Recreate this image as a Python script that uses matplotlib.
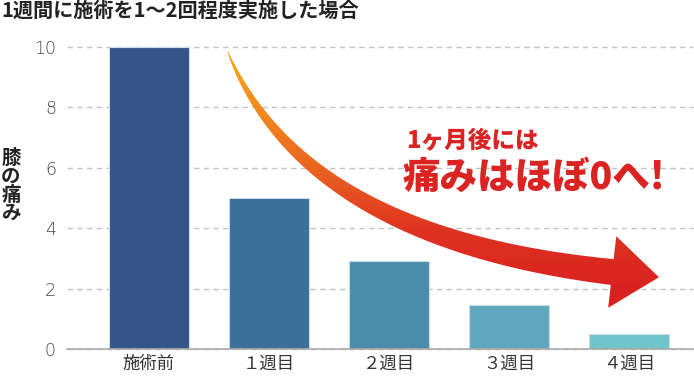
import numpy as np
import matplotlib
matplotlib.use("Agg")
import matplotlib.pyplot as plt
from matplotlib.patches import Polygon
from matplotlib.colors import LinearSegmentedColormap

plt.rcParams['font.family'] = ['Noto Sans CJK JP', 'DejaVu Sans']

# data
categories = ["施術前", "１週目", "２週目", "３週目", "４週目"]
pain = [10, 5.0, 2.9, 1.45, 0.5]
bar_colors = ["#34548a", "#3c6f99", "#4b8bab", "#5fa8bf", "#6fc6ca"]
yticks = [0, 2, 4, 6, 8, 10]

title = "1週間に施術を1〜2回程度実施した場合"
ylabel = "膝の痛み"
note1 = "1ヶ月後には"
note2 = "痛みはほぼ0へ!"

fig = plt.figure(figsize=(6.94, 3.8), dpi=100)
ax = fig.add_axes([67 / 694, 31 / 380, 626 / 694, 302 / 380])

x = np.arange(len(categories))
ax.bar(x, pain, width=0.667, color=bar_colors, edgecolor="#c8dbe6",
       linewidth=0.8, zorder=2)

ax.set_xlim(-0.683, 4.533)
ax.set_ylim(0, 10)
ax.set_yticks(yticks)
ax.set_xticks(x)
ax.set_xticklabels(categories, fontsize=12.5, color="#333333")
ax.tick_params(axis='y', length=0, pad=8, labelsize=12.5, labelcolor="#444444")
ax.tick_params(axis='x', length=0, pad=4)
for lab in ax.get_yticklabels():
    lab.set_family(['DejaVu Sans'])
    lab.set_fontweight('light')

for s in ["top", "right", "left"]:
    ax.spines[s].set_visible(False)
ax.spines["bottom"].set_color("#aaaaaa")
ax.spines["bottom"].set_linewidth(1.2)
ax.yaxis.grid(True, color="#c4c4c4", linestyle=(0, (4, 3)), linewidth=1, zorder=0)
ax.set_axisbelow(True)
for gl in ax.get_ygridlines():
    gl.set_clip_on(False)

fig.text(1 / 694, 1 - 10 / 380, title, fontsize=14.5, fontweight='bold',
         color="#222222", ha='left', va='center')
fig.text(11 / 694, 1 - 186 / 380, "\n".join(ylabel), fontsize=14,
         fontweight='bold', color="#222222", ha='center', va='center',
         linespacing=0.95)

# curved gradient arrow (overlay in pixel space, anchored to data points)
ov = fig.add_axes([0, 0, 1, 1], zorder=5)
ov.set_xlim(0, 694)
ov.set_ylim(380, 0)
ov.axis('off')
ov.patch.set_alpha(0)


def to_px(pt):
    d = ax.transData.transform(pt)
    return ov.transData.inverted().transform(d)


p0 = to_px((0.65, 9.9))
p1 = to_px((1.275, 3.68))
p2 = to_px((3.86, 2.55))
t = np.linspace(0, 1, 200)[:, None]
curve = (1 - t) ** 2 * p0 + 2 * t * (1 - t) * p1 + t ** 2 * p2
deriv = 2 * (1 - t) * (p1 - p0) + 2 * t * (p2 - p1)
tang = deriv / np.linalg.norm(deriv, axis=1)[:, None]
norm = np.column_stack([-tang[:, 1], tang[:, 0]])
w = 13 * t[:, 0] ** 0.7
upper = curve + norm * w[:, None]
lower = curve - norm * w[:, None]

# head
d_end = np.array([0.994, 0.112])
n_end = np.array([-d_end[1], d_end[0]])
base = p2
tip = base + 47 * d_end
h1 = base + 36 * n_end
h2 = base - 36 * n_end
pts = np.vstack([upper, [h1], [tip], [h2], lower[::-1]])
poly = Polygon(pts, closed=True, facecolor='none', edgecolor='none')
ov.add_patch(poly)

cmap = LinearSegmentedColormap.from_list(
    "arr", ["#f8a81e", "#f28a1f", "#ea6220", "#df3321", "#d92220"])
yy = np.linspace(0, 1, 380)
grad = np.clip((yy - 50 / 380) / ((290 - 50) / 380), 0, 1)[:, None] * np.ones((1, 10))
im = ov.imshow(grad, cmap=cmap, extent=(0, 694, 380, 0), aspect='auto',
               interpolation='bilinear')
im.set_clip_path(poly)

ov.text(406, 141, note1, fontsize=17, fontweight='black', color="#db2322",
        ha='left', va='center')
ov.text(403, 178, note2, fontsize=27, fontweight='black', color="#db2322",
        ha='left', va='center')

fig.savefig("out.png", dpi=100)
